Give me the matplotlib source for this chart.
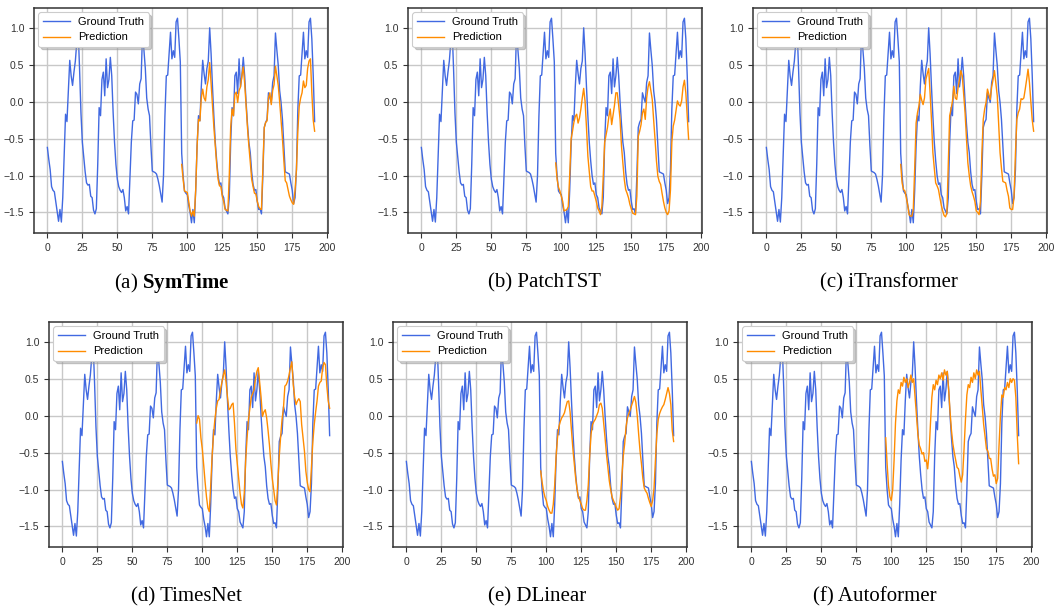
import numpy as np
import matplotlib
matplotlib.use("Agg")
import matplotlib.pyplot as plt

plt.rcParams["font.family"] = ["Liberation Sans", "DejaVu Sans"]
plt.rcParams["mathtext.fontset"] = "custom"
plt.rcParams["mathtext.rm"] = "Liberation Serif"
plt.rcParams["mathtext.bf"] = "Liberation Serif:bold"

# ground truth: 192 steps (96 input + 96 horizon)
ground_truth = [
    -0.62, -0.78, -0.92, -1.15, -1.20, -1.22, -1.35, -1.47, -1.62, -1.46,
    -1.63, -1.30, -0.75, -0.17, -0.27, 0.15, 0.56, 0.35, 0.22, 0.40,
    0.55, 0.80, 0.97, 0.45, -0.15, -0.55, -0.75, -0.95, -1.10, -1.13,
    -1.12, -1.28, -1.30, -1.47, -1.52, -1.45, -0.85, -0.08, -0.19, 0.30,
    0.40, 0.08, 0.58, 0.19, 0.30, 0.60, 0.35, -0.15, -0.55, -0.85,
    -1.05, -1.15, -1.20, -1.23, -1.19, -1.30, -1.48, -1.42, -1.52, -1.05,
    -0.55, -0.26, -0.25, 0.13, 0.10, -0.03, 0.24, 0.31, 0.93, 0.70,
    0.45, 0.05, -0.10, -0.19, -0.60, -0.94, -0.95, -0.96, -0.98, -1.05,
    -1.14, -1.25, -1.36, -1.00, -0.20, 0.35, 0.36, 0.65, 0.94, 0.58,
    0.69, 0.60, 1.08, 1.13, 0.85, 0.54,
    -0.70, -1.00, -1.21, -1.24, -1.26, -1.40, -1.50, -1.64, -1.46, -1.64,
    -1.20, -0.60, -0.19, -0.26, 0.20, 0.56, 0.38, 0.24, 0.45, 0.55,
    1.00, 0.65, 0.20, -0.20, -0.55, -0.80, -1.00, -1.12, -1.10, -1.26,
    -1.30, -1.44, -1.48, -1.52, -1.30, -0.55, -0.08, -0.19, 0.35, 0.40,
    0.11, 0.58, 0.20, 0.35, 0.60, 0.35, 0.00, -0.30, -0.55, -0.69,
    -0.95, -1.12, -1.20, -1.19, -1.35, -1.46, -1.45, -1.52, -1.00, -0.35,
    -0.28, -0.24, 0.12, 0.05, -0.01, 0.26, 0.35, 0.93, 0.70, 0.49,
    0.15, -0.01, -0.24, -0.60, -0.95, -0.96, -0.97, -0.98, -1.10, -1.20,
    -1.38, -1.30, -0.92, -0.10, 0.35, 0.36, 0.65, 0.94, 0.58, 0.69,
    0.60, 1.08, 1.13, 0.85, 0.35, -0.27,
]

# model forecasts for steps 96..191
pred_symtime = [
    -0.85, -1.05, -1.21, -1.22, -1.23, -1.35, -1.48, -1.55, -1.48, -1.55,
    -1.20, -0.60, -0.24, -0.26, 0.05, 0.17, 0.05, 0.01, 0.20, 0.30,
    0.53, 0.25, -0.05, -0.35, -0.60, -0.85, -1.05, -1.14, -1.15, -1.28,
    -1.35, -1.46, -1.47, -1.48, -1.00, -0.35, -0.10, -0.19, 0.10, 0.13,
    -0.01, 0.15, 0.20, 0.35, 0.47, 0.25, -0.05, -0.35, -0.60, -0.82,
    -1.05, -1.15, -1.24, -1.25, -1.35, -1.42, -1.45, -1.46, -0.90, -0.35,
    -0.28, -0.26, 0.05, 0.12, -0.04, 0.15, 0.23, 0.48, 0.35, 0.22,
    0.00, -0.25, -0.50, -0.80, -1.07, -1.10, -1.19, -1.28, -1.33, -1.37,
    -1.39, -1.20, -0.92, -0.40, -0.06, 0.05, 0.12, 0.28, 0.19, 0.22,
    0.45, 0.55, 0.58, 0.12, -0.25, -0.40,
]
pred_patchtst = [
    -0.83, -1.05, -1.16, -1.21, -1.28, -1.35, -1.48, -1.47, -1.46, -1.42,
    -1.00, -0.51, -0.40, -0.28, -0.20, -0.17, -0.29, -0.22, -0.10, 0.05,
    0.18, 0.00, -0.35, -0.74, -0.95, -1.15, -1.21, -1.21, -1.28, -1.35,
    -1.44, -1.48, -1.53, -1.42, -1.00, -0.55, -0.45, -0.35, -0.20, -0.10,
    -0.31, -0.18, -0.05, 0.12, 0.12, -0.05, -0.24, -0.60, -0.83, -1.05,
    -1.19, -1.24, -1.30, -1.39, -1.45, -1.51, -1.52, -1.53, -1.28, -0.47,
    -0.40, -0.31, -0.15, -0.10, -0.24, 0.05, 0.20, 0.27, 0.15, 0.03,
    -0.25, -0.51, -0.80, -1.01, -1.08, -1.12, -1.24, -1.35, -1.44, -1.50,
    -1.53, -1.48, -1.20, -0.55, -0.33, -0.25, -0.12, 0.01, -0.04, -0.06,
    0.01, 0.20, 0.29, 0.12, -0.20, -0.51,
]
pred_itransformer = [
    -0.85, -1.10, -1.19, -1.21, -1.30, -1.40, -1.53, -1.55, -1.55, -1.46,
    -0.90, -0.29, -0.15, -0.06, 0.10, 0.02, -0.04, 0.05, 0.30, 0.38,
    0.45, 0.12, -0.25, -0.69, -0.90, -1.10, -1.14, -1.19, -1.30, -1.40,
    -1.48, -1.54, -1.56, -1.51, -0.85, -0.19, -0.10, 0.01, 0.21, 0.05,
    0.03, 0.19, 0.30, 0.42, 0.35, 0.10, -0.15, -0.50, -0.83, -1.00,
    -1.14, -1.22, -1.28, -1.35, -1.48, -1.50, -1.53, -1.35, -0.70, -0.24,
    -0.10, -0.01, 0.17, 0.10, 0.03, 0.20, 0.30, 0.42, 0.25, 0.08,
    -0.30, -0.69, -0.90, -1.08, -1.09, -1.10, -1.20, -1.28, -1.44, -1.46,
    -1.46, -1.28, -0.70, -0.24, -0.15, -0.10, 0.04, 0.03, 0.05, 0.17,
    0.30, 0.44, 0.26, 0.00, -0.25, -0.40,
]
pred_timesnet = [
    -0.10, 0.00, -0.05, -0.30, -0.45, -0.67, -0.90, -1.10, -1.25, -1.30,
    -0.95, -0.55, -0.26, -0.05, 0.10, 0.20, 0.22, 0.35, 0.45, 0.55,
    0.62, 0.45, 0.25, 0.08, 0.10, 0.15, 0.17, -0.10, -0.45, -0.65,
    -0.85, -1.05, -1.20, -1.25, -1.05, -0.60, -0.30, -0.05, 0.10, 0.25,
    0.30, 0.35, 0.50, 0.60, 0.65, 0.45, 0.25, -0.01, 0.05, 0.08,
    -0.03, -0.20, -0.40, -0.65, -0.85, -1.00, -1.15, -1.21, -0.90, -0.55,
    -0.28, -0.05, 0.10, 0.40, 0.42, 0.47, 0.55, 0.65, 0.73, 0.42,
    0.25, 0.15, 0.20, 0.23, 0.19, -0.12, -0.30, -0.48, -0.75, -0.90,
    -1.00, -1.03, -0.70, -0.35, -0.12, 0.05, 0.20, 0.40, 0.45, 0.47,
    0.65, 0.72, 0.69, 0.40, 0.20, 0.10,
]
pred_dlinear = [
    -0.75, -0.90, -1.02, -1.10, -1.15, -1.23, -1.28, -1.32, -1.32, -1.20,
    -0.94, -0.55, -0.30, -0.15, -0.08, -0.03, 0.00, 0.04, 0.12, 0.19,
    0.20, 0.05, -0.20, -0.45, -0.65, -0.85, -1.00, -1.10, -1.15, -1.20,
    -1.26, -1.28, -1.28, -1.15, -0.94, -0.55, -0.25, -0.12, -0.08, -0.05,
    0.00, 0.05, 0.15, 0.17, 0.10, -0.10, -0.30, -0.52, -0.70, -0.88,
    -1.00, -1.10, -1.15, -1.19, -1.24, -1.28, -1.26, -1.10, -0.82, -0.55,
    -0.38, -0.15, -0.03, 0.03, 0.08, 0.14, 0.20, 0.26, 0.18, 0.00,
    -0.25, -0.48, -0.65, -0.85, -0.98, -1.02, -1.05, -1.12, -1.18, -1.23,
    -1.15, -0.98, -0.60, -0.25, -0.05, 0.03, 0.08, 0.12, 0.15, 0.22,
    0.30, 0.38, 0.30, 0.15, -0.20, -0.35,
]
pred_autoformer = [
    -0.30, -0.65, -0.95, -1.10, -1.15, -1.00, -0.60, -0.10, 0.20, 0.35,
    0.30, 0.45, 0.40, 0.52, 0.45, 0.50, 0.38, 0.45, 0.55, 0.45,
    0.50, 0.25, 0.00, -0.25, -0.40, -0.45, -0.52, -0.50, -0.62, -0.60,
    -0.72, -0.50, -0.10, 0.25, 0.42, 0.35, 0.48, 0.42, 0.55, 0.50,
    0.58, 0.48, 0.62, 0.55, 0.60, 0.35, 0.05, -0.20, -0.38, -0.50,
    -0.60, -0.70, -0.72, -0.82, -0.90, -0.80, -0.45, -0.05, 0.28, 0.42,
    0.38, 0.52, 0.45, 0.58, 0.50, 0.62, 0.55, 0.60, 0.35, 0.12,
    -0.12, -0.28, -0.45, -0.48, -0.58, -0.58, -0.72, -0.82, -0.80, -0.92,
    -0.85, -0.40, 0.00, 0.28, 0.25, 0.38, 0.35, 0.45, 0.38, 0.50,
    0.45, 0.50, 0.48, 0.25, -0.25, -0.65,
]

model_names = ["SymTime", "PatchTST", "iTransformer", "TimesNet", "DLinear", "Autoformer"]
predictions = [pred_symtime, pred_patchtst, pred_itransformer,
               pred_timesnet, pred_dlinear, pred_autoformer]
letters = ["a", "b", "c", "d", "e", "f"]

# axes boxes in pixels: left, top (figure is 1056 x 613)
W, H = 1056, 613
ax_w, ax_h = 294, 225
boxes = [(34, 8), (408, 8), (753, 8), (49, 322), (393, 322), (738, 322)]
caption_pos = [(172, 283), (545, 283), (889, 283), (186, 597), (537, 597), (875, 597)]

fig = plt.figure(figsize=(W / 100, H / 100), dpi=100)

t_gt = np.arange(len(ground_truth))
t_pred = np.arange(96, 96 + len(pred_symtime))

for i, (name, pred) in enumerate(zip(model_names, predictions)):
    left, top = boxes[i]
    ax = fig.add_axes([left / W, 1 - (top + ax_h) / H, ax_w / W, ax_h / H])
    ax.plot(t_gt, ground_truth, color="royalblue", linewidth=1.0, label="Ground Truth")
    ax.plot(t_pred, pred, color="darkorange", linewidth=1.0, label="Prediction")

    ax.set_xticks([0, 25, 50, 75, 100, 125, 150, 175, 200])
    ax.set_yticks([-1.5, -1.0, -0.5, 0.0, 0.5, 1.0])
    ax.grid(True, color="#c8c8c8", linewidth=1.0)
    ax.set_axisbelow(True)
    ax.tick_params(labelsize=7.5, labelcolor="#333333", color="#333333",
                   length=3.5, width=0.8)
    for sp in ax.spines.values():
        sp.set_color("#333333")
        sp.set_linewidth(1.1)

    leg = ax.legend(loc="upper left", fontsize=8, fancybox=True, framealpha=1.0,
                    shadow={"color": "0.6", "alpha": 0.5}, borderaxespad=0.4,
                    handlelength=2.4, edgecolor="#cccccc")
    leg.get_frame().set_linewidth(0.8)

    if i == 0:
        label = r"(a) $\mathbf{SymTime}$"
    else:
        label = f"({letters[i]}) {name}"
    cx, cy = caption_pos[i]
    fig.text(cx / W, 1 - cy / H, label, ha="center", va="center",
             fontsize=15, family="Liberation Serif")

fig.savefig("out.png", dpi=100)
